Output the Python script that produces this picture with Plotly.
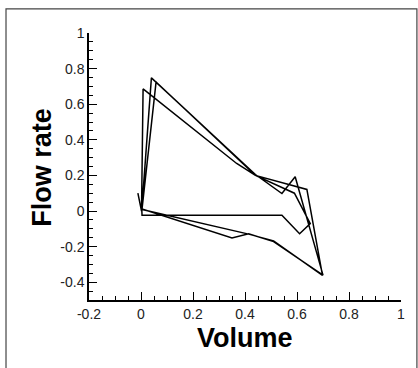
import plotly.graph_objects as go

# Flow-volume loop vertices
volume = [-0.012, 0.002, 0.008, 0.368, 0.44, 0.59, 0.651, 0.61, 0.542, 0.004,
          0.003, 0.040, 0.44, 0.542, 0.593, 0.70, 0.51, 0.414, 0.35, 0.004,
          0.058, 0.44, 0.638, 0.698, 0.51, 0.414, 0.004]
flow = [0.10, 0.0, 0.686, 0.267, 0.20, 0.10, -0.071, -0.128, -0.024, -0.024,
        0.008, 0.748, 0.205, 0.098, 0.192, -0.36, -0.172, -0.128, -0.152, 0.012,
        0.725, 0.20, 0.121, -0.362, -0.168, -0.13, 0.008]

x_tickvals = [-0.2, 0, 0.2, 0.4, 0.6, 0.8, 1]
x_ticktext = ["-0.2", "0", "0.2", "0.4", "0.6", "0.8", "1"]
y_tickvals = [-0.4, -0.2, 0, 0.2, 0.4, 0.6, 0.8, 1]
y_ticktext = ["-0.4", "-0.2", "0", "0.2", "0.4", "0.6", "0.8", "1"]

FONT = "Liberation Sans, Arial, sans-serif"

fig = go.Figure()
fig.add_trace(go.Scatter(x=volume, y=flow, mode="lines",
                         line=dict(color="black", width=1.5),
                         showlegend=False, hoverinfo="skip"))

axis_common = dict(
    showgrid=False, zeroline=False, showline=True, linecolor="black", linewidth=1.5,
    ticks="inside", ticklen=8, tickwidth=1.2, tickcolor="black",
    tickfont=dict(family=FONT, size=14, color="#222"),
    mirror=False,
)

fig.update_xaxes(range=[-0.2, 1], tickvals=x_tickvals, ticktext=x_ticktext,
                 minor=dict(dtick=0.05, tick0=0, ticks="inside", ticklen=4,
                            tickcolor="black", tickwidth=1.2),
                 **axis_common)
fig.update_yaxes(range=[-0.5, 1], tickvals=y_tickvals, ticktext=y_ticktext,
                 minor=dict(dtick=0.05, tick0=0, ticks="inside", ticklen=4,
                            tickcolor="black", tickwidth=1.2),
                 **axis_common)

fig.add_annotation(text="<b>Volume</b>", xref="paper", yref="paper",
                   x=0.5, y=-0.142, xanchor="center", yanchor="middle",
                   showarrow=False,
                   font=dict(family=FONT, size=27, color="black"))
fig.add_annotation(text="<b>Flow rate</b>", xref="paper", yref="paper",
                   x=-0.151, y=0.499, xanchor="center", yanchor="middle",
                   textangle=-90, showarrow=False,
                   font=dict(family=FONT, size=27, color="black"))

fig.add_shape(type="rect", xref="paper", yref="paper",
              x0=-0.266, x1=1.051, y0=-0.30, y1=1.09,
              line=dict(color="#444", width=1.2), layer="below")

fig.update_layout(
    width=418, height=368,
    margin=dict(l=89, r=17, t=33, b=68),
    paper_bgcolor="white", plot_bgcolor="white",
)

fig.write_html("out.html", config={"displayModeBar": False},
               post_script="document.body.style.margin='0';document.body.style.overflow='hidden';")
